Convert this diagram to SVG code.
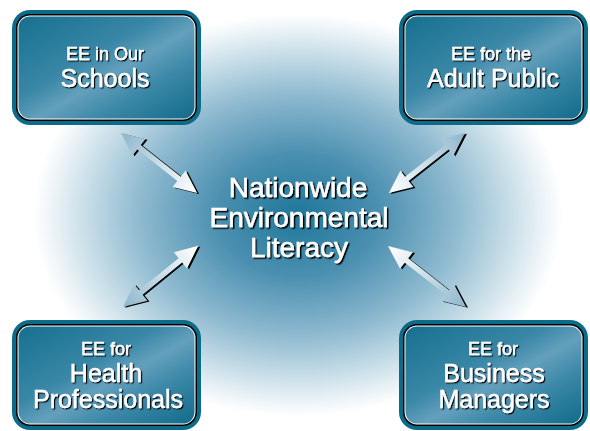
<svg xmlns="http://www.w3.org/2000/svg" width="590" height="431" viewBox="0 0 590 431">
  <defs>
    <radialGradient id="glow" cx="298" cy="215" r="265" gradientUnits="userSpaceOnUse" gradientTransform="translate(298 215) scale(1 0.76) translate(-298 -215)">
      <stop offset="0" stop-color="#1f779a"/>
      <stop offset="0.3" stop-color="#4a8fb0"/>
      <stop offset="0.6" stop-color="#8fbad0"/>
      <stop offset="0.82" stop-color="#cde1ea"/>
      <stop offset="0.93" stop-color="#edf4f8"/>
      <stop offset="1" stop-color="#ffffff"/>
    </radialGradient>
    <linearGradient id="boxFill" x1="0" y1="0" x2="1" y2="1">
      <stop offset="0" stop-color="#16708f"/>
      <stop offset="0.4" stop-color="#3a87a7"/>
      <stop offset="0.55" stop-color="#64a0bc"/>
      <stop offset="0.72" stop-color="#3c88a8"/>
      <stop offset="1" stop-color="#126b8a"/>
    </linearGradient>
    <linearGradient id="arrowFill" x1="0" y1="0" x2="97" y2="0" gradientUnits="userSpaceOnUse">
      <stop offset="0" stop-color="#8db6cb"/>
      <stop offset="0.5" stop-color="#c9dde7"/>
      <stop offset="1" stop-color="#ffffff"/>
    </linearGradient>
    <filter id="shadow" x="-10%" y="-10%" width="130%" height="130%">
      <feDropShadow dx="1.5" dy="1.5" stdDeviation="0" flood-color="#000" flood-opacity="1"/>
    </filter>
    <filter id="shadowSm" x="-10%" y="-10%" width="130%" height="130%">
      <feDropShadow dx="1.2" dy="1.2" stdDeviation="0" flood-color="#000" flood-opacity="1"/>
    </filter>
    <!-- double-headed arrow along +x, outer end at 0 -->
    <polygon id="arrowShape" points="0,0 23,-10.5 23,-2.8 74,-2.8 74,-10.5 97,0 74,10.5 74,2.8 23,2.8 23,10.5"/>
  </defs>
  <style>
    .ring { fill: #0d6b8a; }
    .edge { fill: #000; }
    .hl { fill: #ffffff; }
    .face { fill: url(#boxFill); }
    .lbl { font-family: "Liberation Sans", Arial, sans-serif; fill: #ffffff; stroke: #ffffff; stroke-width: 0.4; text-anchor: middle; filter: url(#shadowSm); }
    .small { font-size: 18px; }
    .big { font-size: 25px; }
    .center { font-family: "Liberation Sans", Arial, sans-serif; font-size: 28px; fill: #ffffff; stroke: #ffffff; stroke-width: 0.5; text-anchor: middle; filter: url(#shadow); }
    .arr { fill: url(#arrowFill); }
    .arrShade { fill: #000; }
  </style>

  <rect width="590" height="431" fill="#ffffff"/>
  <ellipse cx="298" cy="215" rx="265" ry="202" fill="url(#glow)"/>

  <g id="connectors">
    <g transform="translate(121 133) rotate(38.3)">
      <use href="#arrowShape" class="arrShade" transform="rotate(-38.3) translate(2 0.8) rotate(38.3)"/>
      <use href="#arrowShape" class="arr"/>
    </g>
    <g transform="translate(465 133) rotate(141.7)">
      <use href="#arrowShape" class="arrShade" transform="rotate(-141.7) translate(2 0.8) rotate(141.7)"/>
      <use href="#arrowShape" class="arr"/>
    </g>
    <g transform="translate(123 307) rotate(-39.1)">
      <use href="#arrowShape" class="arrShade" transform="rotate(39.1) translate(2 0.8) rotate(-39.1)"/>
      <use href="#arrowShape" class="arr"/>
    </g>
    <g transform="translate(466 307) rotate(-142) scale(1.02 1)">
      <use href="#arrowShape" class="arrShade" transform="scale(0.98 1) rotate(142) translate(2 0.8) rotate(-142) scale(1.02 1)"/>
      <use href="#arrowShape" class="arr"/>
    </g>
  </g>

  <g id="center-node">
    <text class="center" x="298" y="197">Nationwide</text>
    <text class="center" x="299" y="227">Environmental</text>
    <text class="center" x="299" y="257">Literacy</text>
  </g>

  <g id="node-schools">
    <rect class="ring" x="12" y="10" width="189" height="115" rx="18"/>
    <rect class="edge" x="16" y="14" width="181" height="107" rx="14"/>
    <rect class="hl" x="17.5" y="15.5" width="178" height="104" rx="12.5"/>
    <rect class="face" x="18.5" y="16.5" width="176" height="102" rx="11.5"/>
    <text class="lbl small" x="105" y="60">EE in Our</text>
    <text class="lbl big" x="105" y="87">Schools</text>
  </g>

  <g id="node-adult-public">
    <rect class="ring" x="399" y="10" width="189" height="115" rx="18"/>
    <rect class="edge" x="403" y="14" width="181" height="107" rx="14"/>
    <rect class="hl" x="404.5" y="15.5" width="178" height="104" rx="12.5"/>
    <rect class="face" x="405.5" y="16.5" width="176" height="102" rx="11.5"/>
    <text class="lbl small" x="491" y="60">EE for the</text>
    <text class="lbl big" x="493" y="87">Adult Public</text>
  </g>

  <g id="node-health">
    <rect class="ring" x="12" y="320" width="189" height="110" rx="18"/>
    <rect class="edge" x="16" y="324" width="181" height="102" rx="14"/>
    <rect class="hl" x="17.5" y="325.5" width="178" height="99" rx="12.5"/>
    <rect class="face" x="18.5" y="326.5" width="176" height="97" rx="11.5"/>
    <text class="lbl small" x="106" y="355">EE for</text>
    <text class="lbl big" x="106" y="382">Health</text>
    <text class="lbl big" x="108" y="408">Professionals</text>
  </g>

  <g id="node-business">
    <rect class="ring" x="399" y="320" width="189" height="110" rx="18"/>
    <rect class="edge" x="403" y="324" width="181" height="102" rx="14"/>
    <rect class="hl" x="404.5" y="325.5" width="178" height="99" rx="12.5"/>
    <rect class="face" x="405.5" y="326.5" width="176" height="97" rx="11.5"/>
    <text class="lbl small" x="493" y="355">EE for</text>
    <text class="lbl big" x="494" y="382">Business</text>
    <text class="lbl big" x="494" y="408">Managers</text>
  </g>
</svg>
